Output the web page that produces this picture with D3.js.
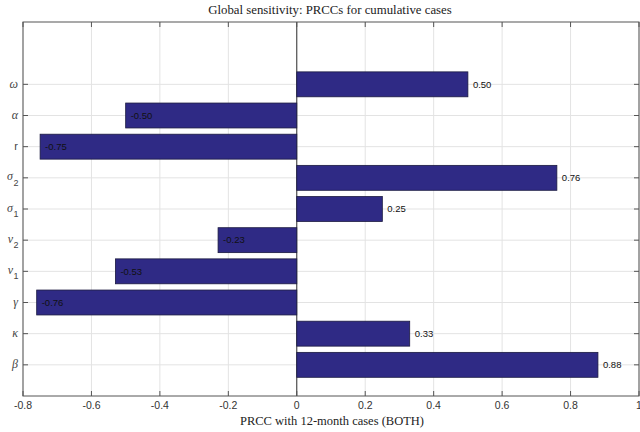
<!DOCTYPE html>
<html>
<head>
<meta charset="utf-8">
<script src="https://cdn.jsdelivr.net/npm/d3@7"></script>
<style>
  html, body { margin: 0; padding: 0; background: #fff; }
  svg { display: block; }
</style>
</head>
<body>
<svg id="chart" width="640" height="432"></svg>
<script>
// Parameters (bottom to top) and their partial rank correlation coefficients
const params = [
  { base: "β", sub: null, italic: true },
  { base: "κ", sub: null, italic: true },
  { base: "γ", sub: null, italic: true },
  { base: "ν", sub: "1", italic: true },
  { base: "ν", sub: "2", italic: true },
  { base: "σ", sub: "1", italic: true },
  { base: "σ", sub: "2", italic: true },
  { base: "r", sub: null, italic: false },
  { base: "α", sub: null, italic: true },
  { base: "ω", sub: null, italic: true }
];
const prcc = [0.88, 0.33, -0.76, -0.53, -0.23, 0.25, 0.76, -0.75, -0.50, 0.50];
const xTicks = [-0.8, -0.6, -0.4, -0.2, 0, 0.2, 0.4, 0.6, 0.8, 1];
const xTickLabels = ["-0.8", "-0.6", "-0.4", "-0.2", "0", "0.2", "0.4", "0.6", "0.8", "1"];

const svg = d3.select("#chart");
const margin = { left: 23, right: 1, top: 22, bottom: 36 };
const W = 640, H = 432;
const plotW = W - margin.left - margin.right;
const plotH = H - margin.top - margin.bottom;

const x = d3.scaleLinear().domain([-0.8, 1]).range([margin.left, margin.left + plotW]);
// one empty slot above the last parameter
const y = d3.scaleLinear().domain([0, params.length + 2]).range([margin.top + plotH, margin.top]);
const barH = (y(0) - y(1)) * 0.8;

const serif = "'Liberation Serif', 'DejaVu Serif', serif";
const sans = "Helvetica, Arial, 'Liberation Sans', sans-serif";

// Grid
const grid = svg.append("g").attr("stroke", "#e3e3e3").attr("stroke-width", 1);
xTicks.forEach(t => {
  grid.append("line").attr("x1", x(t)).attr("x2", x(t))
    .attr("y1", margin.top).attr("y2", margin.top + plotH);
});
params.forEach((p, i) => {
  grid.append("line").attr("x1", margin.left).attr("x2", margin.left + plotW)
    .attr("y1", y(i + 1)).attr("y2", y(i + 1));
});

// Zero baseline
svg.append("line").attr("x1", x(0)).attr("x2", x(0))
  .attr("y1", margin.top).attr("y2", margin.top + plotH)
  .attr("stroke", "#333").attr("stroke-width", 1);

// Bars
svg.append("g").selectAll("rect").data(prcc).join("rect")
  .attr("x", d => Math.min(x(0), x(d)))
  .attr("width", d => Math.abs(x(d) - x(0)))
  .attr("y", (d, i) => y(i + 1) - barH / 2)
  .attr("height", barH)
  .attr("fill", "#2f2a85")
  .attr("stroke", "#1b1a40")
  .attr("stroke-width", 0.8);

// Value labels: right of positive bars, inside the left end of negative bars
svg.append("g").selectAll("text").data(prcc).join("text")
  .attr("x", d => x(d) + 5)
  .attr("y", (d, i) => y(i + 1))
  .attr("dy", "0.35em")
  .attr("font-family", sans)
  .attr("font-size", 9.5)
  .attr("fill", "#111")
  .text(d => d.toFixed(2));

// Axes box with ticks
const frame = svg.append("g").attr("stroke", "#555").attr("stroke-width", 1).attr("fill", "none");
frame.append("rect").attr("x", margin.left).attr("y", margin.top)
  .attr("width", plotW).attr("height", plotH);
xTicks.forEach(t => {
  frame.append("line").attr("x1", x(t)).attr("x2", x(t))
    .attr("y1", margin.top + plotH).attr("y2", margin.top + plotH - 5);
  frame.append("line").attr("x1", x(t)).attr("x2", x(t))
    .attr("y1", margin.top).attr("y2", margin.top + 5);
});
params.forEach((p, i) => {
  frame.append("line").attr("x1", margin.left).attr("x2", margin.left + 5)
    .attr("y1", y(i + 1)).attr("y2", y(i + 1));
  frame.append("line").attr("x1", margin.left + plotW).attr("x2", margin.left + plotW - 5)
    .attr("y1", y(i + 1)).attr("y2", y(i + 1));
});

// X tick labels
svg.append("g").selectAll("text").data(xTicks).join("text")
  .attr("x", d => x(d))
  .attr("y", margin.top + plotH + 13)
  .attr("text-anchor", "middle")
  .attr("font-family", sans)
  .attr("font-size", 10.5)
  .attr("fill", "#333")
  .text((d, i) => xTickLabels[i]);

// Y tick labels (parameter symbols)
const yl = svg.append("g");
params.forEach((p, i) => {
  const t = yl.append("text")
    .attr("x", p.sub ? 13 : 18)
    .attr("y", y(i + 1) - (p.sub ? 1 : 0))
    .attr("dy", "0.3em")
    .attr("text-anchor", "end")
    .attr("fill", "#444");
  if (p.italic) {
    t.attr("font-family", serif).attr("font-style", "italic").attr("font-size", 12);
  } else {
    t.attr("font-family", sans).attr("font-size", 11);
  }
  t.text(p.base);
  if (p.sub) {
    yl.append("text")
      .attr("x", 13.5).attr("y", y(i + 1) + 8)
      .attr("font-family", sans).attr("font-size", 9).attr("fill", "#444")
      .text(p.sub);
  }
});

// Title and axis label
svg.append("text").attr("x", 330).attr("y", 14).attr("text-anchor", "middle")
  .attr("font-family", serif).attr("font-size", 12.8).attr("fill", "#222")
  .text("Global sensitivity: PRCCs for cumulative cases");
svg.append("text").attr("x", 332).attr("y", 425).attr("text-anchor", "middle")
  .attr("font-family", serif).attr("font-size", 12.5).attr("fill", "#222")
  .text("PRCC with 12-month cases (BOTH)");
</script>
</body>
</html>
